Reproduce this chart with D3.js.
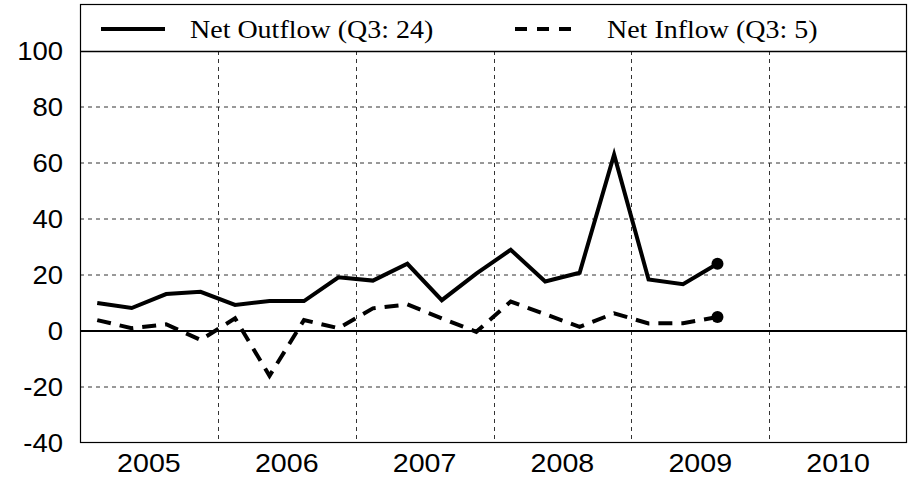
<!DOCTYPE html>
<html>
<head>
<meta charset="utf-8">
<script src="https://cdn.jsdelivr.net/npm/d3@7"></script>
<style>
  body { margin: 0; background: #fff; }
  .tick-label { font-family: "Liberation Sans", Arial, sans-serif; font-size: 25px; }
  .legend-text { font-family: "Liberation Serif", "Times New Roman", serif; font-size: 25px; }
</style>
</head>
<body>
<div id="chart"></div>
<script>
// quarterly series, 2005 Q1 .. 2009 Q3
var quarters = [
  "2005Q1", "2005Q2", "2005Q3", "2005Q4",
  "2006Q1", "2006Q2", "2006Q3", "2006Q4",
  "2007Q1", "2007Q2", "2007Q3", "2007Q4",
  "2008Q1", "2008Q2", "2008Q3", "2008Q4",
  "2009Q1", "2009Q2", "2009Q3"
];
var outflow = [10, 8.2, 13.2, 14, 9.3, 10.7, 10.7, 19.2, 18, 24, 11, 20.5, 29, 17.7, 20.8, 63, 18.4, 16.7, 24];
var inflow = [3.9, 1, 2.4, -3.2, 4.5, -16, 3.9, 1, 8.1, 9.5, 4.5, -0.3, 10.5, 6, 1.5, 6.3, 2.7, 2.8, 5];
var years = ["2005", "2006", "2007", "2008", "2009", "2010"];
var yTicks = [-40, -20, 0, 20, 40, 60, 80, 100];
var legendNames = ["Net Outflow (Q3: 24)", "Net Inflow (Q3: 5)"];

var width = 912;
var height = 479;
var plotLeft = 80, plotRight = 907, plotTop = 4, plotBottom = 443;

function qx(q) {
  return +q.slice(0, 4) + (+q.slice(5) - 0.5) / 4;
}

var x = d3.scaleLinear().domain([2005, 2011]).range([plotLeft, plotRight]);
var y = d3.scaleLinear().domain([-40, 100]).range([plotBottom, 51]);

var svg = d3.select("#chart").append("svg")
  .attr("width", width)
  .attr("height", height);

// horizontal grid
svg.append("g").selectAll("line")
  .data(yTicks.filter(function (d) { return d !== 0 && d !== -40 && d !== 100; }))
  .enter().append("line")
  .attr("x1", plotLeft).attr("x2", plotRight)
  .attr("y1", function (d) { return y(d); })
  .attr("y2", function (d) { return y(d); })
  .attr("stroke", "#333").attr("stroke-width", 1)
  .attr("stroke-dasharray", "4,4");

// vertical grid at year boundaries
svg.append("g").selectAll("line")
  .data(years.slice(1))
  .enter().append("line")
  .attr("x1", function (d) { return Math.round(x(+d)) + 0.5; })
  .attr("x2", function (d) { return Math.round(x(+d)) + 0.5; })
  .attr("y1", y(100)).attr("y2", plotBottom)
  .attr("stroke", "#333").attr("stroke-width", 1)
  .attr("stroke-dasharray", "4,4");

// zero line
svg.append("line")
  .attr("x1", plotLeft).attr("x2", plotRight)
  .attr("y1", y(0)).attr("y2", y(0))
  .attr("stroke", "#000").attr("stroke-width", 2);

// frame and legend box
svg.append("rect")
  .attr("x", plotLeft + 0.5).attr("y", plotTop + 0.5)
  .attr("width", plotRight - plotLeft - 1).attr("height", plotBottom - plotTop - 1)
  .attr("fill", "none").attr("stroke", "#000").attr("stroke-width", 1.2);
svg.append("line")
  .attr("x1", plotLeft).attr("x2", plotRight)
  .attr("y1", y(100) + 0.5).attr("y2", y(100) + 0.5)
  .attr("stroke", "#000").attr("stroke-width", 1.5);

// y labels
svg.append("g").selectAll("text")
  .data(yTicks)
  .enter().append("text")
  .attr("class", "tick-label")
  .attr("x", 63)
  .attr("y", function (d) { return y(d); })
  .attr("dy", "0.36em")
  .attr("text-anchor", "end")
  .attr("transform", function (d) { return "translate(63," + y(d) + ") scale(1.1,1) translate(-63," + (-y(d)) + ")"; })
  .text(function (d) { return d; });

// x labels centred in each year
svg.append("g").selectAll("text")
  .data(years)
  .enter().append("text")
  .attr("class", "tick-label")
  .attr("x", function (d) { return x(+d + 0.5); })
  .attr("y", 472)
  .attr("text-anchor", "middle")
  .style("font-size", "26px")
  .attr("transform", function (d) { var cx = x(+d + 0.5); return "translate(" + cx + ",0) scale(1.1,1) translate(" + (-cx) + ",0)"; })
  .text(function (d) { return d; });

var line = d3.line()
  .x(function (d) { return x(qx(d.q)); })
  .y(function (d) { return y(d.v); });

function series(vals) {
  return vals.map(function (v, i) { return { q: quarters[i], v: v }; });
}

var outData = series(outflow);
var inData = series(inflow);

svg.append("path")
  .datum(outData)
  .attr("d", line)
  .attr("fill", "none").attr("stroke", "#000").attr("stroke-width", 4)
  .attr("stroke-linejoin", "miter");

svg.append("path")
  .datum(inData)
  .attr("d", line)
  .attr("fill", "none").attr("stroke", "#000").attr("stroke-width", 4)
  .attr("stroke-dasharray", "14,9");

// end markers
[outData, inData].forEach(function (s) {
  var last = s[s.length - 1];
  svg.append("circle")
    .attr("cx", x(qx(last.q)))
    .attr("cy", y(last.v))
    .attr("r", 6)
    .attr("fill", "#000");
});

// legend
var ly = 29;
svg.append("line")
  .attr("x1", 101).attr("x2", 165)
  .attr("y1", ly).attr("y2", ly)
  .attr("stroke", "#000").attr("stroke-width", 4);
svg.append("line")
  .attr("x1", 515).attr("x2", 571)
  .attr("y1", ly).attr("y2", ly)
  .attr("stroke", "#000").attr("stroke-width", 4)
  .attr("stroke-dasharray", "12,10");

svg.append("g").selectAll("text")
  .data(legendNames)
  .enter().append("text")
  .attr("class", "legend-text")
  .attr("x", function (d, i) { return i === 0 ? 190 : 607; })
  .attr("y", 38)
  .attr("transform", function (d, i) { var tx = i === 0 ? 190 : 607; return "translate(" + tx + ",0) scale(1.12,1) translate(" + (-tx) + ",0)"; })
  .text(function (d) { return d; });
</script>
</body>
</html>
